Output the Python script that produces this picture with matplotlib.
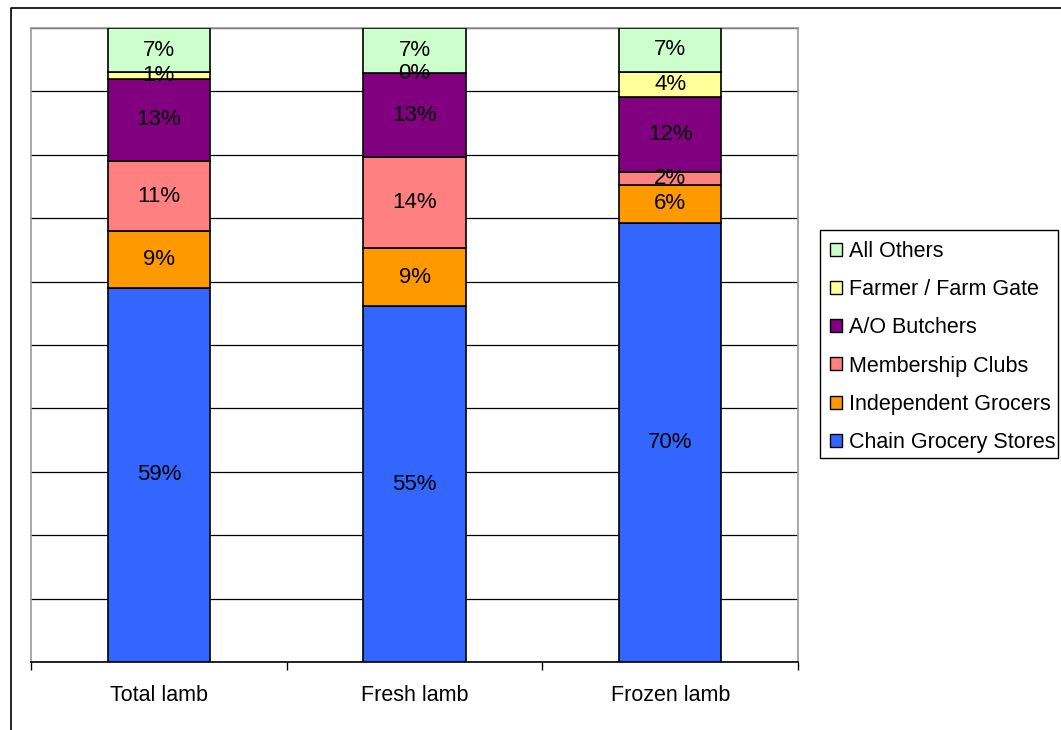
import numpy as np
import matplotlib.pyplot as plt
from matplotlib.lines import Line2D
from matplotlib.patches import Patch, Rectangle

plt.rcParams['font.family'] = ['Liberation Sans', 'DejaVu Sans']

categories = ['Total lamb', 'Fresh lamb', 'Frozen lamb']
series = ['Chain Grocery Stores', 'Independent Grocers', 'Membership Clubs',
          'A/O Butchers', 'Farmer / Farm Gate', 'All Others']
chain = [59, 55, 70]
independent = [9, 9, 6]
membership = [11, 14, 2]
butchers = [13, 13, 12]
farmer = [1, 0, 4]
others = [7, 7, 7]
colors = ['#3366FF', '#FF9900', '#FF8080', '#800080', '#FFFF99', '#CCFFCC']

values = np.array([chain, independent, membership, butchers, farmer, others], dtype=float)
# chart is 100% stacked, so scale each column to its total
shares = values / values.sum(axis=0) * 100

fig = plt.figure(figsize=(10.61, 7.30), dpi=100)
ax = fig.add_axes([0.0292, 0.0932, 0.7230, 0.8684])

x = np.arange(len(categories))
bottom = np.zeros(len(categories))
for i, name in enumerate(series):
    ax.bar(x, shares[i], 0.4, bottom=bottom, color=colors[i],
           edgecolor='black', linewidth=1.2, label=name, zorder=3)
    for j in range(len(categories)):
        ax.text(x[j], bottom[j] + shares[i][j] / 2, f'{int(values[i][j])}%',
                ha='center', va='center', fontsize=16, color='black', zorder=4)
    bottom += shares[i]

ax.set_xlim(-0.5, 2.5)
ax.set_ylim(0, 100)
ax.set_yticks(np.arange(0, 101, 10))
ax.set_yticklabels([])
ax.tick_params(axis='y', length=0)
ax.yaxis.grid(True, color='black', linewidth=0.9, zorder=0)

ax.set_xticks(x)
ax.set_xticklabels(categories, fontsize=15.5)
ax.tick_params(axis='x', which='major', length=0, pad=16.5)
ax.set_xticks([-0.5, 0.5, 1.5, 2.5], minor=True)
ax.tick_params(axis='x', which='minor', length=6, width=1, color='black')

for s in ['top', 'left', 'right']:
    ax.spines[s].set_color('#999999')
    ax.spines[s].set_linewidth(1.2)
ax.spines['bottom'].set_color('black')
ax.spines['bottom'].set_linewidth(1.2)

# legend (reversed order) with a hand-placed frame
handles = [Patch(facecolor=colors[i], edgecolor='black', label=series[i])
           for i in range(len(series))][::-1]
fig.legend(handles=handles, loc='upper left', bbox_to_anchor=(0.7822, 0.670),
           fontsize=15.5, frameon=False, handlelength=0.55, handleheight=0.55,
           handletextpad=0.35, labelspacing=0.80, borderpad=0, borderaxespad=0)
fig.add_artist(Rectangle((0.7729, 0.3726), 0.2243, 0.3123, transform=fig.transFigure,
                         fill=False, edgecolor='black', linewidth=1.0))

# outer chart border (top and left edges visible)
fig.add_artist(Line2D([0.0104, 0.0104, 1.0], [0.0, 0.989, 0.989],
                      transform=fig.transFigure, color='black', linewidth=1.2))

fig.savefig('out.png', dpi=100)
